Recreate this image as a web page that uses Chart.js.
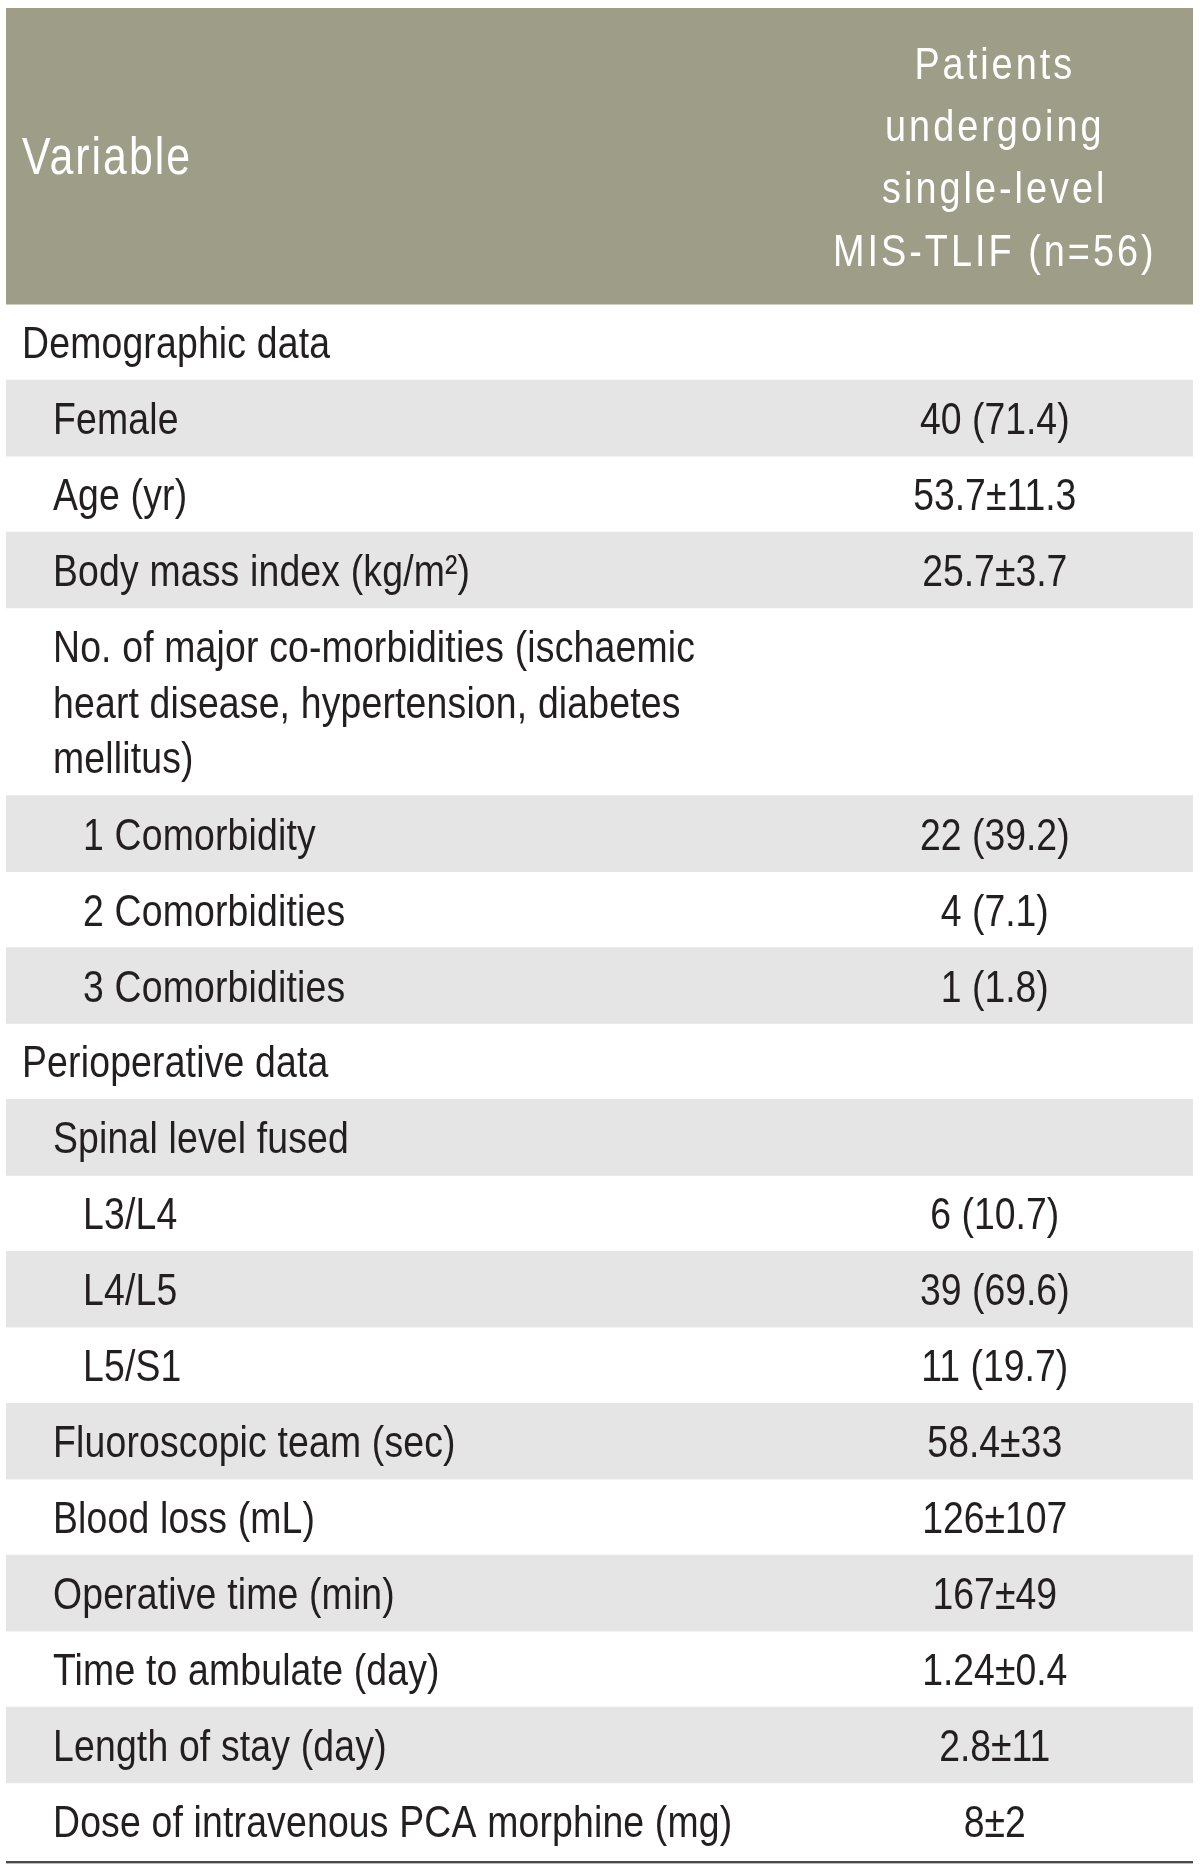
<!DOCTYPE html>
<html>
<head>
<meta charset="utf-8">
<script src="https://cdn.jsdelivr.net/npm/chart.js@4.4.1/dist/chart.umd.min.js"></script>
<style>
  html, body { margin: 0; padding: 0; background: #fff; }
  canvas { display: block; }
</style>
</head>
<body>
<canvas id="tabla" width="1200" height="1869"></canvas>
<script>
// Table content
const headers = ['Variable', 'Patients\nundergoing\nsingle-level\nMIS-TLIF (n=56)'];
const variables = [
  'Demographic data',
  'Female',
  'Age (yr)',
  'Body mass index (kg/m²)',
  'No. of major co-morbidities (ischaemic\nheart disease, hypertension, diabetes\nmellitus)',
  '1 Comorbidity',
  '2 Comorbidities',
  '3 Comorbidities',
  'Perioperative data',
  'Spinal level fused',
  'L3/L4',
  'L4/L5',
  'L5/S1',
  'Fluoroscopic team (sec)',
  'Blood loss (mL)',
  'Operative time (min)',
  'Time to ambulate (day)',
  'Length of stay (day)',
  'Dose of intravenous PCA morphine (mg)'
];
const values = [
  '', '40 (71.4)', '53.7±11.3', '25.7±3.7', '',
  '22 (39.2)', '4 (7.1)', '1 (1.8)',
  '', '', '6 (10.7)', '39 (69.6)', '11 (19.7)',
  '58.4±33', '126±107', '167±49', '1.24±0.4', '2.8±11', '8±2'
];
const levels = [0, 1, 1, 1, 1, 2, 2, 2, 0, 1, 2, 2, 2, 1, 1, 1, 1, 1, 1];

// layout (row units / fractions of width)
const headerSpan = 3.9;
const tallSpan = 2.47;
const headerGap = 0.82;   // line spacing in header
const bodyGap = 0.73;     // line spacing in wrapped rows
const labelCol = [0.0135, 0.0396, 0.0649];
const valueCol = 0.833;
const fontFam = "'Liberation Sans', Arial, sans-serif";
const narrow = 0.84;      // horizontal squeeze to get a condensed face

// row start positions
const rows = [];
let pos = headerSpan;
variables.forEach((v) => {
  const span = v.includes('\n') ? tallSpan : 1;
  rows.push({ start: pos, end: pos + span });
  pos += span;
});
const total = pos;

const datasets = [{
  label: 'header',
  data: [[0, headerSpan]],
  backgroundColor: '#9e9d87'
}];
rows.forEach((r, i) => {
  if (i % 2 === 1) {
    datasets.push({ label: 'fila' + i, data: [[r.start, r.end]], backgroundColor: '#e5e5e5' });
  }
});
datasets.push({ label: 'regla', data: [[total + 0.03, total + 0.06]], backgroundColor: '#4a4a4a' });

const textoPlugin = {
  id: 'texto',
  afterDatasetsDraw(chart) {
    const ctx = chart.ctx;
    const y = chart.scales.y;
    const area = chart.chartArea;
    const colX = f => area.left + f * (area.right - area.left);
    const drawLines = (text, xPix, center, gap, size, color, align, spacing) => {
      const lines = text.split('\n');
      lines.forEach((ln, k) => {
        const v = center + (k - (lines.length - 1) / 2) * gap;
        ctx.save();
        ctx.font = size + 'px ' + fontFam;
        ctx.fillStyle = color;
        ctx.textAlign = align;
        ctx.textBaseline = 'alphabetic';
        ctx.letterSpacing = (spacing || 0) + 'px';
        ctx.translate(xPix, y.getPixelForValue(v) + size * 0.36);
        ctx.scale(narrow, 1);
        ctx.fillText(ln, 0, 0);
        ctx.restore();
      });
    };
    // header
    drawLines(headers[0], colX(labelCol[0]), headerSpan / 2, headerGap, 51, '#ffffff', 'left', 2.4);
    drawLines(headers[1], colX(valueCol), headerSpan / 2, headerGap, 45, '#ffffff', 'center', 3.6);
    // body
    rows.forEach((r, i) => {
      const c = (r.start + r.end) / 2;
      drawLines(variables[i], colX(labelCol[levels[i]]), c, bodyGap, 44.5, '#231f20', 'left', 0.2);
      if (values[i]) {
        drawLines(values[i], colX(valueCol), c, bodyGap, 44.5, '#231f20', 'center');
      }
    });
  }
};

new Chart(document.getElementById('tabla').getContext('2d'), {
  type: 'bar',
  data: { labels: ['tabla'], datasets: datasets },
  options: {
    responsive: false,
    animation: false,
    devicePixelRatio: 1,
    events: [],
    layout: { padding: { left: 6, right: 7, top: 8, bottom: 5.5 } },
    datasets: { bar: { categoryPercentage: 1, barPercentage: 1, borderWidth: 0 } },
    plugins: { legend: { display: false }, tooltip: { enabled: false } },
    scales: {
      x: { display: false, stacked: true },
      y: { display: false, stacked: false, reverse: true, min: 0, max: total + 0.06 }
    }
  },
  plugins: [textoPlugin]
});
</script>
</body>
</html>
